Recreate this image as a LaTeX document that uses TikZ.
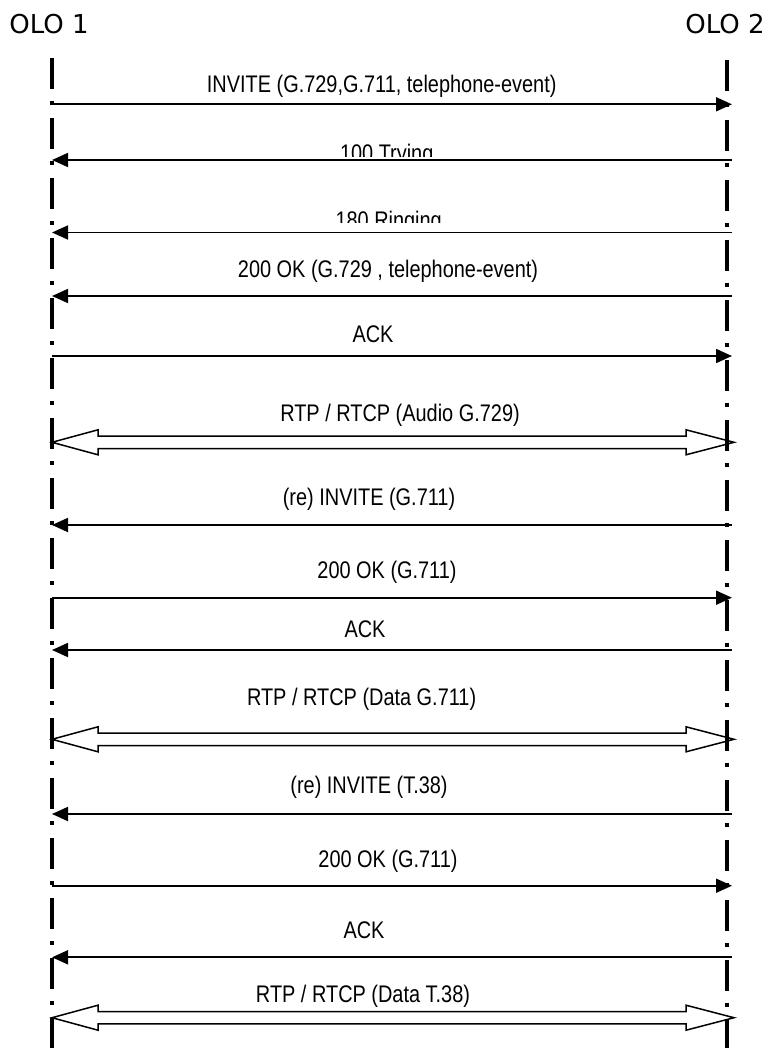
\documentclass[tikz,border=0pt]{standalone}
\usepackage{fontspec}
\setmainfont{Liberation Sans}
\newfontfamily\headfont{DejaVu Sans}
\newfontfamily\msgfont[FakeStretch=0.83]{Liberation Sans}
\usetikzlibrary{arrows.meta}

% hollow two-headed media stream between two named points
\newcommand\duplexarrow[2]{%
  \draw[duplex] (#1) -- ++(46,-12.5) -- ++(0,6.3)
    -- ([shift={(-48,-6.2)}]#2) -- ++(0,-6.3) -- (#2)
    -- ++(-48,12.5) -- ++(0,-6.3)
    -- ([shift={(46,6.2)}]#1) -- ++(0,6.3) -- cycle;}

\begin{document}
\begin{tikzpicture}[x=1pt,y=-1pt,
  party/.style={font=\headfont\fontsize{26}{30}\selectfont, inner sep=0pt, anchor=base},
  msg/.style={font=\msgfont\fontsize{24}{27}\selectfont, inner sep=0pt, anchor=base},
  lifeline/.style={line width=4pt, line cap=butt, dash pattern=on 31pt off 12pt on 4pt off 13pt},
  sig/.style={line width=1.8pt, -{Triangle[length=16pt,width=14pt]}},
  duplex/.style={line width=1.5pt, line join=miter}]

\fill[white] (0,0) rectangle (769,1048);
\useasboundingbox (0,0) rectangle (769,1048);

% parties and their lifelines
\node[party] (olo1) at (49,34) {OLO 1};
\node[party] (olo2) at (725,34) {OLO 2};
\coordinate (top1) at (52,58);
\coordinate (bot1) at (52,1048);
\coordinate (top2) at (727,60);
\coordinate (bot2) at (727,1048);
\draw[lifeline] (top1) -- (bot1);
\draw[lifeline] (top2) -- (bot2);

% end points of the signalling messages
\foreach \n/\y in {m1/104.3, m2/160, m3/232.5, m4/296, m5/356, m7/525,
                   m8/597.7, m9/650, m11/814, m12/885.7, m13/957.3} {
  \coordinate (\n L) at (52,\y);
  \coordinate (\n R) at (732,\y);
}
% end points of the media streams
\foreach \n/\y in {m6/442.3, m10/739.3, m14/1017.7} {
  \coordinate (\n L) at (52,\y);
  \coordinate (\n R) at (734,\y);
}

% call setup
\node[msg] (t1) at (381.7,93) {INVITE (G.729,G.711, telephone-event)};
\draw[sig] (m1L) -- (m1R);

\begin{scope}
  \clip (0,0) rectangle (769,156.7);
  \node[msg] (t2) at (386.7,161.2) {100 Trying};
\end{scope}
\draw[sig] (m2R) -- (m2L);

\begin{scope}
  \clip (0,0) rectangle (769,222.7);
  \node[msg] (t3) at (388.7,228.9) {180 Ringing};
\end{scope}
\draw[sig] (m3R) -- (m3L);

\node[msg] (t4) at (388,277.4) {200 OK (G.729 , telephone-event)};
\draw[sig] (m4R) -- (m4L);

\node[msg] (t5) at (373,342) {ACK};
\draw[sig] (m5L) -- (m5R);

\node[msg] (t6) at (400,421.7) {RTP / RTCP (Audio G.729)};
\duplexarrow{m6L}{m6R}

% switch to G.711
\node[msg] (t7) at (369,505) {(re) INVITE (G.711)};
\draw[sig] (m7R) -- (m7L);

\node[msg] (t8) at (387,578.5) {200 OK (G.711)};
\draw[sig] (m8L) -- (m8R);

\node[msg] (t9) at (365,637) {ACK};
\draw[sig] (m9R) -- (m9L);

\node[msg] (t10) at (361.6,705) {RTP / RTCP (Data G.711)};
\duplexarrow{m10L}{m10R}

% switch to T.38
\node[msg] (t11) at (369,793.5) {(re) INVITE (T.38)};
\draw[sig] (m11R) -- (m11L);

\node[msg] (t12) at (388,867) {200 OK (G.711)};
\draw[sig] (m12L) -- (m12R);

\node[msg] (t13) at (364,938) {ACK};
\draw[sig] (m13R) -- (m13L);

\node[msg] (t14) at (363,1002) {RTP / RTCP (Data T.38)};
\duplexarrow{m14L}{m14R}

\end{tikzpicture}
\end{document}
